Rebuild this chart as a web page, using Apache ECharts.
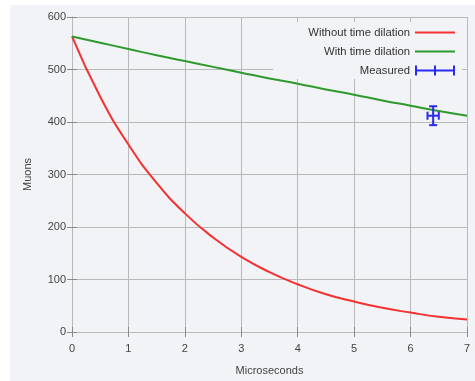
<!DOCTYPE html>
<html>
<head>
<meta charset="utf-8">
<script src="https://cdn.jsdelivr.net/npm/echarts@6/dist/echarts.min.js"></script>
<style>
  html, body { margin: 0; padding: 0; background: #ffffff; }
  #panel { position: absolute; left: 10px; top: 5px; width: 465px; height: 376px; background: #f2f3f6; }
  #chart { position: absolute; left: 0; top: 0; width: 475px; height: 381px; }
</style>
</head>
<body>
<div id="panel"></div>
<div id="chart"></div>
<script>
// Elapsed time in microseconds
const times = [0, 0.5, 1, 1.5, 2, 2.5, 3, 3.5, 4, 4.5, 5, 5.5, 6, 6.5, 7];
// Surviving muons expected without relativistic time dilation
const withoutDilation = [563, 448, 357, 284, 226, 180, 143, 114, 91, 72, 58, 46, 37, 29, 24];
// Surviving muons expected with time dilation
const withDilation = [563, 551, 539, 527, 516, 505, 494, 483, 473, 462, 452, 441, 431, 421, 412];
// Measured count with its error bars
const measuredT = [6.4];
const measuredN = [412];
const measuredLow = [394];
const measuredHigh = [430];
const measuredTErr = [0.1];

const xTicks = [0, 1, 2, 3, 4, 5, 6, 7];
const yTicks = [0, 100, 200, 300, 400, 500, 600];

const gridColor = '#b9b9b9';
const tickColor = '#8a8a8a';
const textColor = '#444444';
const redColor = '#f53030';
const greenColor = '#2e9a2e';
const blueColor = '#2a2af0';
const font = 'Liberation Sans, Arial, sans-serif';

const chart = echarts.init(document.getElementById('chart'), null, { renderer: 'canvas' });

const pairs = (xs, ys) => xs.map((x, i) => [x, ys[i]]);
const measuredData = measuredT.map((t, i) => [t, measuredN[i], measuredLow[i], measuredHigh[i], measuredTErr[i]]);

const lineIcon = 'path://M0,4h40v2h-40z';
const errorIcon = 'path://M0,4h40v2h-40z M0,0h2v10h-2z M38,0h2v10h-2z M19,0h2v10h-2z';

const baseAxis = {
  axisLine: { show: true, lineStyle: { color: gridColor, width: 1 } },
  axisTick: { show: true, inside: true, length: 5, lineStyle: { color: tickColor, width: 1 } },
  splitLine: { show: false }
};

chart.setOption({
  animation: false,
  textStyle: { fontFamily: font },
  grid: { left: 72, right: 8, top: 17, bottom: 46, containLabel: false },
  legend: {
    orient: 'vertical',
    right: 13,
    top: 22,
    align: 'right',
    padding: [5, 7, 3, 35],
    backgroundColor: '#f2f3f6',
    itemWidth: 40,
    itemHeight: 10,
    itemGap: 8,
    textStyle: { color: '#333', fontSize: 11.3, fontFamily: font },
    z: 10,
    data: [
      { name: 'Without time dilation', icon: lineIcon, itemStyle: { color: redColor } },
      { name: 'With time dilation', icon: lineIcon, itemStyle: { color: greenColor } },
      { name: 'Measured', icon: errorIcon, itemStyle: { color: blueColor } }
    ]
  },
  xAxis: [
    Object.assign({}, baseAxis, {
      type: 'value', position: 'bottom', min: 0, max: 7, interval: 1,
      name: 'Microseconds', nameLocation: 'middle', nameGap: 33,
      nameTextStyle: { color: textColor, fontSize: 11 },
      axisLabel: { color: textColor, fontSize: 11, margin: 11, formatter: v => xTicks.includes(v) ? String(v) : '' },
      splitLine: { show: true, lineStyle: { color: gridColor, width: 1 } }
    }),
    Object.assign({}, baseAxis, {
      type: 'value', position: 'top', min: 0, max: 7, interval: 1,
      axisLabel: { show: false }
    })
  ],
  yAxis: [
    Object.assign({}, baseAxis, {
      type: 'value', position: 'left', min: 0, max: 600, interval: 100,
      name: 'Muons', nameLocation: 'middle', nameGap: 39, nameRotate: 90,
      nameTextStyle: { color: textColor, fontSize: 11 },
      axisLabel: { color: textColor, fontSize: 11, margin: 6, formatter: v => yTicks.includes(v) ? String(v) : '' },
      splitLine: { show: true, lineStyle: { color: gridColor, width: 1 } }
    }),
    Object.assign({}, baseAxis, {
      type: 'value', position: 'right', min: 0, max: 600, interval: 100,
      axisLabel: { show: false }
    })
  ],
  series: [
    {
      name: 'Without time dilation', type: 'line', xAxisIndex: 0, yAxisIndex: 0,
      data: pairs(times, withoutDilation), smooth: true,
      symbol: 'none', lineStyle: { color: redColor, width: 2 }, itemStyle: { color: redColor }, z: 3
    },
    {
      // drawn above the key box so its edge never clips the curve
      name: 'With time dilation', type: 'line', xAxisIndex: 0, yAxisIndex: 0,
      data: pairs(times, withDilation), smooth: true,
      symbol: 'none', lineStyle: { color: greenColor, width: 2 }, itemStyle: { color: greenColor }, z: 11
    },
    {
      name: 'Measured', type: 'custom', xAxisIndex: 0, yAxisIndex: 0, z: 12,
      itemStyle: { color: blueColor },
      data: measuredData,
      encode: { x: 0, y: [1, 2, 3] },
      renderItem: function (params, api) {
        const t = api.value(0), n = api.value(1), lo = api.value(2), hi = api.value(3), dt = api.value(4);
        const c = api.coord([t, n]);
        const cLo = api.coord([t, lo]);
        const cHi = api.coord([t, hi]);
        const cL = api.coord([t - dt, n]);
        const cR = api.coord([t + dt, n]);
        const cap = 4;
        const style = { stroke: blueColor, lineWidth: 2, fill: null };
        const seg = (x1, y1, x2, y2) => ({ type: 'line', shape: { x1, y1, x2, y2 }, style });
        return {
          type: 'group',
          children: [
            seg(cLo[0], cLo[1], cHi[0], cHi[1]),
            seg(cLo[0] - cap, cLo[1], cLo[0] + cap, cLo[1]),
            seg(cHi[0] - cap, cHi[1], cHi[0] + cap, cHi[1]),
            seg(cL[0], c[1], cR[0], c[1]),
            seg(cL[0], c[1] - cap, cL[0], c[1] + cap),
            seg(cR[0], c[1] - cap, cR[0], c[1] + cap)
          ]
        };
      }
    }
  ]
});
</script>
</body>
</html>
